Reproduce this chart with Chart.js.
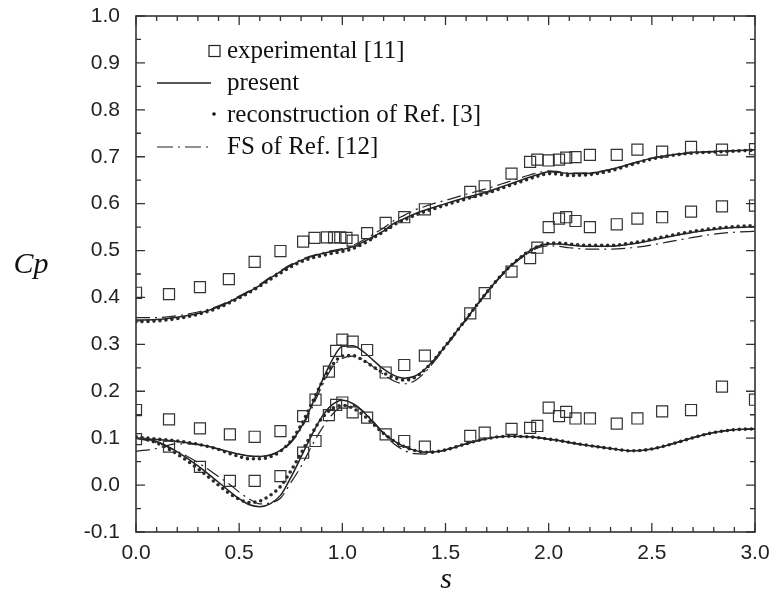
<!DOCTYPE html>
<html>
<head>
<meta charset="utf-8">
<script src="https://cdn.jsdelivr.net/npm/chart.js@4.4.1/dist/chart.umd.min.js"></script>
<style>
  body { margin: 0; background: #fff; }
  #wrap { width: 771px; height: 592px; }
</style>
</head>
<body>
<div id="wrap"><canvas id="cpChart" width="771" height="592"></canvas></div>
<script>
// arc-length positions shared by the computed curves
const sCurve = [0, 0.1, 0.2, 0.3, 0.4, 0.45, 0.5, 0.55, 0.6, 0.65, 0.7, 0.75, 0.8, 0.85, 0.9, 0.95,
  1.0, 1.05, 1.1, 1.15, 1.2, 1.25, 1.3, 1.35, 1.4, 1.45, 1.5, 1.6, 1.7, 1.8, 1.9, 1.95,
  2.0, 2.05, 2.1, 2.2, 2.3, 2.4, 2.5, 2.6, 2.7, 2.8, 2.9, 3.0];

// upper branch
const upperPresent = [0.352, 0.353, 0.358, 0.366, 0.380, 0.390, 0.401, 0.413, 0.426, 0.441, 0.455, 0.468, 0.479, 0.487, 0.493, 0.498,
  0.502, 0.508, 0.518, 0.530, 0.542, 0.558, 0.568, 0.578, 0.586, 0.593, 0.600, 0.613, 0.625, 0.640, 0.655, 0.662,
  0.668, 0.667, 0.664, 0.665, 0.673, 0.685, 0.697, 0.704, 0.709, 0.711, 0.713, 0.715];
const upperRecon = [0.348, 0.350, 0.355, 0.364, 0.378, 0.388, 0.399, 0.411, 0.424, 0.438, 0.452, 0.465, 0.476, 0.484, 0.489, 0.494,
  0.498, 0.504, 0.514, 0.527, 0.540, 0.555, 0.565, 0.575, 0.583, 0.590, 0.597, 0.610, 0.622, 0.637, 0.652, 0.659,
  0.664, 0.663, 0.660, 0.662, 0.670, 0.683, 0.695, 0.703, 0.708, 0.710, 0.712, 0.714];
const upperFS = [0.357, 0.357, 0.361, 0.369, 0.382, 0.392, 0.403, 0.415, 0.428, 0.443, 0.457, 0.470, 0.481, 0.489, 0.495, 0.500,
  0.504, 0.511, 0.522, 0.535, 0.548, 0.564, 0.575, 0.586, 0.594, 0.601, 0.607, 0.620, 0.632, 0.646, 0.660, 0.666,
  0.670, 0.668, 0.665, 0.666, 0.673, 0.685, 0.697, 0.704, 0.709, 0.711, 0.713, 0.715];

// middle branch
const middlePresent = [0.100, 0.097, 0.093, 0.087, 0.077, 0.071, 0.066, 0.062, 0.061, 0.064, 0.074, 0.092, 0.123, 0.168, 0.220, 0.266,
  0.296, 0.297, 0.285, 0.266, 0.247, 0.234, 0.228, 0.232, 0.247, 0.270, 0.297, 0.354, 0.411, 0.461, 0.497, 0.509,
  0.514, 0.514, 0.512, 0.509, 0.509, 0.514, 0.522, 0.531, 0.539, 0.545, 0.549, 0.551];
const middleRecon = [0.103, 0.098, 0.094, 0.087, 0.076, 0.068, 0.061, 0.056, 0.056, 0.060, 0.072, 0.094, 0.128, 0.172, 0.218, 0.255,
  0.275, 0.276, 0.266, 0.252, 0.239, 0.229, 0.224, 0.229, 0.246, 0.270, 0.297, 0.354, 0.411, 0.461, 0.497, 0.509,
  0.515, 0.516, 0.514, 0.511, 0.511, 0.516, 0.524, 0.533, 0.541, 0.547, 0.551, 0.553];
const middleFS = [0.072, 0.078, 0.088, 0.086, 0.077, 0.071, 0.066, 0.062, 0.061, 0.064, 0.073, 0.090, 0.120, 0.162, 0.210, 0.250,
  0.270, 0.275, 0.268, 0.252, 0.236, 0.222, 0.216, 0.222, 0.240, 0.266, 0.294, 0.352, 0.409, 0.459, 0.494, 0.506,
  0.510, 0.509, 0.506, 0.503, 0.503, 0.506, 0.512, 0.520, 0.528, 0.535, 0.539, 0.541];

// lower branch
const lowerPresent = [0.100, 0.093, 0.071, 0.041, 0.006, -0.012, -0.029, -0.042, -0.046, -0.040, -0.022, 0.016, 0.060, 0.105, 0.145, 0.171,
  0.181, 0.174, 0.157, 0.134, 0.111, 0.094, 0.082, 0.074, 0.070, 0.071, 0.075, 0.088, 0.099, 0.104, 0.103, 0.101,
  0.098, 0.095, 0.091, 0.084, 0.078, 0.073, 0.077, 0.088, 0.101, 0.112, 0.118, 0.120];
const lowerRecon = [0.103, 0.090, 0.066, 0.035, 0.000, -0.017, -0.030, -0.037, -0.034, -0.022, -0.003, 0.030, 0.068, 0.108, 0.142, 0.163,
  0.170, 0.164, 0.150, 0.130, 0.110, 0.094, 0.082, 0.074, 0.070, 0.071, 0.075, 0.088, 0.099, 0.104, 0.103, 0.101,
  0.098, 0.095, 0.091, 0.084, 0.078, 0.073, 0.077, 0.088, 0.101, 0.112, 0.118, 0.120];
const lowerFS = [0.100, 0.090, 0.072, 0.048, 0.018, 0.003, -0.015, -0.030, -0.040, -0.038, -0.028, 0.005, 0.040, 0.082, 0.120, 0.150,
  0.168, 0.170, 0.158, 0.136, 0.110, 0.088, 0.074, 0.067, 0.066, 0.069, 0.075, 0.088, 0.099, 0.104, 0.103, 0.101,
  0.098, 0.095, 0.091, 0.084, 0.078, 0.073, 0.077, 0.088, 0.101, 0.112, 0.118, 0.120];

// experimental [11]
const sExpUpper = [0, 0.16, 0.31, 0.45, 0.575, 0.70, 0.81, 0.865, 0.925, 0.96, 0.99, 1.02, 1.05, 1.12, 1.21, 1.30, 1.40,
  1.62, 1.69, 1.82, 1.91, 1.945, 2.0, 2.05, 2.085, 2.13, 2.20, 2.33, 2.43, 2.55, 2.69, 2.84, 3.0];
const cpExpUpper = [0.410, 0.407, 0.422, 0.439, 0.476, 0.499, 0.519, 0.527, 0.528, 0.528, 0.528, 0.527, 0.521, 0.537, 0.559, 0.571, 0.588,
  0.625, 0.637, 0.664, 0.689, 0.694, 0.692, 0.694, 0.698, 0.699, 0.704, 0.704, 0.715, 0.711, 0.721, 0.715, 0.716];
const sExp = [0, 0.16, 0.31, 0.455, 0.575, 0.70, 0.81, 0.87, 0.935, 0.97, 1.0, 1.05, 1.12, 1.21, 1.30, 1.40,
  1.62, 1.69, 1.82, 1.91, 1.945, 2.0, 2.05, 2.085, 2.13, 2.20, 2.33, 2.43, 2.55, 2.69, 2.84, 3.0];
const cpExpMiddle = [0.160, 0.140, 0.121, 0.108, 0.103, 0.115, 0.147, 0.182, 0.242, 0.286, 0.310, 0.306, 0.288, 0.240, 0.256, 0.276,
  0.366, 0.409, 0.455, 0.484, 0.506, 0.550, 0.568, 0.571, 0.563, 0.550, 0.556, 0.568, 0.571, 0.583, 0.594, 0.596];
const cpExpLower = [0.098, 0.082, 0.039, 0.009, 0.009, 0.019, 0.069, 0.094, 0.149, 0.171, 0.176, 0.155, 0.144, 0.108, 0.094, 0.082,
  0.105, 0.112, 0.120, 0.122, 0.126, 0.165, 0.147, 0.156, 0.142, 0.142, 0.131, 0.142, 0.157, 0.160, 0.210, 0.182];

const xTickValues = [0, 0.5, 1.0, 1.5, 2.0, 2.5, 3.0];
const yTickValues = [-0.1, 0, 0.1, 0.2, 0.3, 0.4, 0.5, 0.6, 0.7, 0.8, 0.9, 1.0];

const legendLabels = ['experimental [11]', 'present', 'reconstruction of Ref. [3]', 'FS of Ref. [12]'];

const ink = '#222';

function pts(xs, ys) {
  return xs.map((x, i) => ({ x: x, y: ys[i] }));
}

function presentSet(ys) {
  return { data: pts(sCurve, ys), showLine: true, borderColor: ink, borderWidth: 1.5,
    pointRadius: 0, cubicInterpolationMode: 'monotone' };
}
function reconSet(ys) {
  return { data: pts(sCurve, ys), showLine: true, borderColor: '#2a2a2a', borderWidth: 3.6,
    borderDash: [0, 6], borderCapStyle: 'round', pointRadius: 0, cubicInterpolationMode: 'monotone' };
}
function fsSet(ys) {
  return { data: pts(sCurve, ys), showLine: true, borderColor: ink, borderWidth: 1.2,
    borderDash: [14, 5, 2, 5], pointRadius: 0, cubicInterpolationMode: 'monotone' };
}
function expSet(xs, ys) {
  return { data: pts(xs, ys), showLine: false, pointStyle: 'rect', pointRadius: 7.8,
    pointBorderWidth: 1.2, pointBorderColor: '#333', pointBackgroundColor: 'rgba(0,0,0,0)' };
}

// frame, inward ticks, legend and axis names
const decorPlugin = {
  id: 'decor',
  afterDraw(chart) {
    const ctx = chart.ctx;
    const a = chart.chartArea;
    const xs = chart.scales.x, ys = chart.scales.y;
    ctx.save();
    ctx.strokeStyle = '#333';
    ctx.lineWidth = 1.6;
    ctx.strokeRect(a.left, a.top, a.right - a.left, a.bottom - a.top);

    ctx.lineWidth = 1.3;
    ctx.beginPath();
    for (let i = 0; i <= 30; i++) {
      const px = xs.getPixelForValue(i / 10);
      const len = i % 5 === 0 ? 9 : 5;
      ctx.moveTo(px, a.bottom); ctx.lineTo(px, a.bottom - len);
      ctx.moveTo(px, a.top); ctx.lineTo(px, a.top + len);
    }
    for (let i = -2; i <= 20; i++) {
      const py = ys.getPixelForValue(i / 20);
      const len = i % 2 === 0 ? 9 : 5;
      ctx.moveTo(a.left, py); ctx.lineTo(a.left + len, py);
      ctx.moveTo(a.right, py); ctx.lineTo(a.right - len, py);
    }
    ctx.stroke();

    // legend
    ctx.fillStyle = '#111';
    ctx.strokeStyle = '#222';
    ctx.font = '25px "Liberation Serif"';
    ctx.textBaseline = 'middle';
    ctx.textAlign = 'left';
    const rows = [51, 83, 115, 147];
    ctx.lineWidth = 1.2;
    ctx.strokeRect(209, rows[0] - 5.5, 11, 11);
    ctx.lineWidth = 1.4;
    ctx.beginPath(); ctx.moveTo(157, rows[1]); ctx.lineTo(211, rows[1]); ctx.stroke();
    ctx.beginPath(); ctx.arc(214, rows[2] - 1, 1.8, 0, Math.PI * 2); ctx.fill();
    ctx.lineWidth = 1.2;
    ctx.setLineDash([16, 5, 2, 5]);
    ctx.beginPath(); ctx.moveTo(157, rows[3]); ctx.lineTo(211, rows[3]); ctx.stroke();
    ctx.setLineDash([]);
    legendLabels.forEach((t, i) => ctx.fillText(t, 227, rows[i]));

    // axis names
    ctx.font = 'italic 30px "Liberation Serif"';
    ctx.textAlign = 'center';
    ctx.textBaseline = 'alphabetic';
    ctx.fillText('Cp', 31, 273);
    ctx.fillText('s', 446, 588);
    ctx.restore();
  }
};

const tickFont = { family: '"Liberation Sans", Arial, sans-serif', size: 21 };

new Chart(document.getElementById('cpChart'), {
  type: 'scatter',
  data: {
    datasets: [
      expSet(sExpUpper, cpExpUpper),
      expSet(sExp, cpExpMiddle),
      expSet(sExp, cpExpLower),
      presentSet(upperPresent), presentSet(middlePresent), presentSet(lowerPresent),
      reconSet(upperRecon), reconSet(middleRecon), reconSet(lowerRecon),
      fsSet(upperFS), fsSet(middleFS), fsSet(lowerFS)
    ]
  },
  options: {
    responsive: false,
    animation: false,
    layout: { padding: { top: 16, right: 16, left: 0, bottom: 0 } },
    plugins: { legend: { display: false }, tooltip: { enabled: false } },
    scales: {
      x: {
        type: 'linear', min: 0, max: 3,
        grid: { display: false, drawTicks: false },
        border: { display: false },
        afterBuildTicks: (s) => { s.ticks = xTickValues.map(v => ({ value: v })); },
        afterFit: (s) => { s.height = 60; s.paddingLeft = 0; s.paddingRight = 0; },
        ticks: { color: ink, font: tickFont, padding: 9, maxRotation: 0,
          callback: (v) => Number(v).toFixed(1) }
      },
      y: {
        type: 'linear', min: -0.1, max: 1.0,
        grid: { display: false, drawTicks: false },
        border: { display: false },
        afterBuildTicks: (s) => { s.ticks = yTickValues.map(v => ({ value: v })); },
        afterFit: (s) => { s.width = 136; s.paddingTop = 0; s.paddingBottom = 0; },
        ticks: { color: ink, font: tickFont, padding: 16,
          callback: (v) => Number(v).toFixed(1) }
      }
    }
  },
  plugins: [decorPlugin]
});
</script>
</body>
</html>
